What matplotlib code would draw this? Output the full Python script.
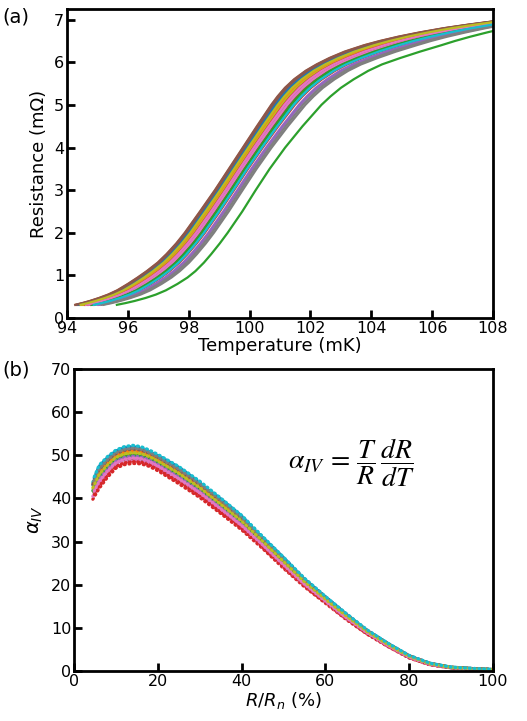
import matplotlib
matplotlib.use("Agg")
import matplotlib.pyplot as plt
import numpy as np

# ---- panel (a): R(T) transition curves ----
# resistance levels (mOhm) and temperatures (mK) read for the leftmost and rightmost (green) curves
R_levels = [0.31, 0.35, 0.40, 0.47, 0.55, 0.65, 0.80, 0.95, 1.10, 1.30, 1.50, 1.75, 2.00, 2.50,
            3.00, 3.50, 4.00, 4.50, 5.00, 5.20, 5.40, 5.60, 5.80, 5.95, 6.10, 6.25, 6.40, 6.50,
            6.60, 6.70, 6.80, 6.88, 6.96, 7.03, 7.10]
T_left = [94.27, 94.50, 94.75, 95.05, 95.35, 95.65, 96.00, 96.32, 96.62, 96.98, 97.27, 97.59,
          97.87, 98.37, 98.86, 99.32, 99.78, 100.24, 100.71, 100.92, 101.16, 101.46, 101.84,
          102.20, 102.62, 103.12, 103.76, 104.28, 104.88, 105.58, 106.38, 107.15, 108.00,
          108.75, 109.50]
T_right = [95.64, 95.92, 96.22, 96.58, 96.92, 97.25, 97.63, 97.96, 98.22, 98.50, 98.74, 99.02,
           99.28, 99.76, 100.20, 100.66, 101.17, 101.74, 102.36, 102.66, 103.00, 103.42, 103.90,
           104.35, 104.95, 105.60, 106.30, 106.75, 107.25, 107.80, 108.40, 108.90, 109.45,
           109.95, 110.45]
# position of each measured curve between the leftmost (0) and rightmost (1) curve
curve_pos = [0.22, 0.01, 0.34, 0.47, 0.58, 0.00, 0.28, 0.09, 0.17, 0.44,
             0.12, 0.24, 1.00, 0.38, 0.31, 0.05, 0.32, 0.68, 0.19, 0.41,
             0.07, 0.15, 0.39, 0.25, 0.55, 0.03, 0.26, 0.63, 0.13, 0.45]

# ---- panel (b): alpha_IV vs R/Rn ----
rrn = [4.5, 6, 8, 10, 12, 14, 16, 18, 20, 25, 30, 35, 40, 45, 50, 55, 60, 65, 70, 75, 80, 85, 90, 95, 100]
alpha_center = [42.0, 45.0, 47.3, 49.1, 49.9, 50.2, 50.0, 49.3, 48.3, 45.4, 42.1, 38.3, 34.4, 29.8,
                25.1, 20.5, 16.5, 12.6, 9.0, 6.0, 3.3, 1.6, 0.8, 0.5, 0.3]
alpha_spread = [2.2, 2.7, 2.4, 2.1, 2.1, 2.1, 2.0, 1.9, 1.9, 2.0, 1.9, 1.8, 1.7, 1.4, 1.3, 1.0,
                0.8, 0.7, 0.5, 0.4, 0.3, 0.2, 0.1, 0.1, 0.05]
# relative position of each series within the band (-1 bottom ... +1 top)
series_pos = [0.5, 0.2, -0.3, -1.0, 0.0, -0.5, -0.7, 0.3, 0.1, 0.8,
              0.9, 0.4, -0.1, -0.8, -0.2, 0.6, -0.4, 0.7, 0.2, 1.0]

colors = plt.rcParams['axes.prop_cycle'].by_key()['color']

fig = plt.figure(figsize=(5.27, 7.21), dpi=100)
ax1 = fig.add_axes([0.1271, 0.5589, 0.8084, 0.4286])
ax2 = fig.add_axes([0.1404, 0.0694, 0.7950, 0.4189])

tl = np.array(T_left)
tr = np.array(T_right)
for i, f in enumerate(curve_pos):
    ax1.plot(tl + f * (tr - tl), R_levels, color=colors[i % 10], lw=1.6)
ax1.set_xlim(94, 108)
ax1.set_ylim(0, 7.25)
ax1.set_xticks(range(94, 109, 2))
ax1.set_yticks(range(0, 8))
ax1.set_xlabel('Temperature (mK)', fontsize=13, labelpad=1)
ax1.set_ylabel('Resistance (m\u03a9)', fontsize=13)

c = np.array(alpha_center)
sp = np.array(alpha_spread)
for i, p in enumerate(series_pos):
    ax2.plot(rrn, c + p * sp, color=colors[i % 10], lw=2.3,
             linestyle=(i % 3 * 0.3, (0.3, 0.9 + 0.1 * (i % 4))), dash_capstyle='round')
ax2.set_xlim(0, 100)
ax2.set_ylim(0, 70)
ax2.set_xticks(range(0, 101, 20))
ax2.set_yticks(range(0, 71, 10))
ax2.set_xlabel('$R/R_n$ (%)', fontsize=13, labelpad=1)
ax2.set_ylabel(r'$\alpha_{IV}$', fontsize=14)
ax2.text(0.51, 0.69, r'$\alpha_{IV}\,=\,\dfrac{T}{R}\,\dfrac{dR}{dT}$', transform=ax2.transAxes,
         fontsize=20, math_fontfamily='stix', va='center', ha='left')

for ax in (ax1, ax2):
    for sp_ in ax.spines.values():
        sp_.set_linewidth(2)
    ax.tick_params(direction='in', length=6, width=2, labelsize=11.5, pad=2)

fig.text(0.005, 0.977, '(a)', fontsize=14, va='center')
fig.text(0.005, 0.487, '(b)', fontsize=14, va='center')

fig.savefig('out.png', dpi=100)
